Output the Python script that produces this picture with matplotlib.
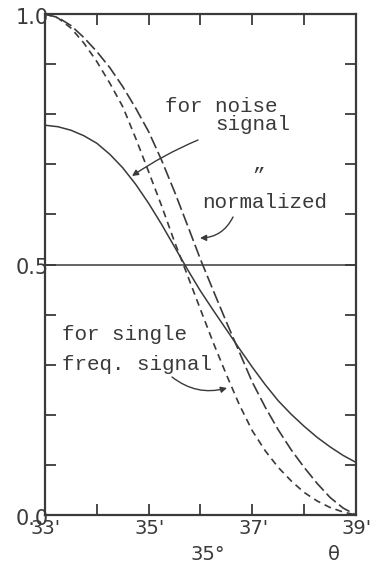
import matplotlib
matplotlib.use("Agg")
import matplotlib.pyplot as plt
from matplotlib.transforms import ScaledTranslation

# ---- data ----
theta_min = [33.00, 33.25, 33.50, 33.75, 34.00, 34.25, 34.50, 34.75, 35.00,
             35.25, 35.50, 35.75, 36.00, 36.25, 36.50, 36.75, 37.00, 37.25,
             37.50, 37.75, 38.00, 38.25, 38.50, 38.75, 39.00]

noise_signal = [0.778, 0.775, 0.768, 0.757, 0.742, 0.720, 0.693, 0.660, 0.622,
                0.580, 0.535, 0.490, 0.447, 0.408, 0.370, 0.332, 0.295, 0.260,
                0.228, 0.201, 0.177, 0.155, 0.136, 0.119, 0.105]

normalized = [1.000, 0.993, 0.977, 0.953, 0.925, 0.893, 0.855, 0.812, 0.765,
              0.708, 0.645, 0.578, 0.510, 0.447, 0.385, 0.325, 0.265, 0.215,
              0.170, 0.130, 0.095, 0.063, 0.035, 0.014, 0.000]

single_freq = [1.000, 0.992, 0.972, 0.942, 0.905, 0.862, 0.815, 0.752, 0.685,
               0.617, 0.545, 0.478, 0.410, 0.343, 0.280, 0.220, 0.168, 0.128,
               0.095, 0.068, 0.045, 0.028, 0.015, 0.006, 0.000]

x_ticks = [33, 34, 35, 36, 37, 38, 39]
x_tick_labels = ["33'", "", "35'", "", "37'", "", "39'"]
y_ticks = [0.0, 0.1, 0.2, 0.3, 0.4, 0.5, 0.6, 0.7, 0.8, 0.9, 1.0]
y_tick_labels = ["0.0", "", "", "", "", "0.5", "", "", "", "", "1.0"]
ref_level = 0.5

# ---- styling ----
plt.rcParams['lines.scale_dashes'] = False
ink = "#3a3a3a"
mono = "Liberation Mono"
hand = "DejaVu Sans"

W, H = 373, 568
fig = plt.figure(figsize=(W / 100, H / 100), dpi=100)
fig.patch.set_facecolor("white")
ax = fig.add_axes([45 / W, 1 - 515 / H, (356 - 45) / W, (515 - 14) / H])

ax.plot(theta_min, noise_signal, color=ink, lw=1.1, solid_capstyle='round')
ax.plot(theta_min, normalized, color=ink, lw=1.2, dashes=(9, 3))
ax.plot(theta_min, single_freq, color=ink, lw=1.2, dashes=(5, 3.5))
ax.axhline(ref_level, color=ink, lw=1.1)

ax.set_xlim(33, 39)
ax.set_ylim(0, 1)

ax.set_xticks(x_ticks)
ax.set_xticklabels(x_tick_labels, family=hand, fontsize=14, color=ink)
ax.set_yticks(y_ticks)
ax.set_yticklabels(y_tick_labels, family=hand, fontsize=15, color=ink)
ax.tick_params(axis='both', direction='in', length=8, width=1.3, color=ink,
               top=True, right=True)
ax.tick_params(axis='x', pad=3)
ax.tick_params(axis='y', pad=-3)
shift = ScaledTranslation(1 / 100, 0, fig.dpi_scale_trans)
for lab in ax.get_xticklabels():
    lab.set_transform(lab.get_transform() + shift)
yshift = ScaledTranslation(0, -2 / 100, fig.dpi_scale_trans)
for lab in ax.get_yticklabels():
    lab.set_transform(lab.get_transform() + yshift)
for s in ax.spines.values():
    s.set_linewidth(1.6)
    s.set_color(ink)

# ---- annotations ----
def fx(px):
    return (px - 45) / 311

def fy(py):
    return (515 - py) / 501

ax.text(fx(165), fy(112), "for noise", family=mono, fontsize=15, color=ink,
        transform=ax.transAxes, va='baseline', ha='left')
ax.text(fx(215), fy(130), "signal", family=mono, fontsize=15, color=ink,
        transform=ax.transAxes, va='baseline', ha='left')
ax.text(fx(258), fy(182), "\u201d", family=mono, fontsize=15, color=ink,
        transform=ax.transAxes, va='baseline', ha='center')
ax.text(fx(202), fy(208), "normalized", family=mono, fontsize=15, color=ink,
        transform=ax.transAxes, va='baseline', ha='left')
ax.text(fx(62), fy(340), "for single", family=mono, fontsize=15, color=ink,
        transform=ax.transAxes, va='baseline', ha='left')
ax.text(fx(62), fy(370), "freq. signal", family=mono, fontsize=15, color=ink,
        transform=ax.transAxes, va='baseline', ha='left')

arrow = dict(arrowstyle='-|>', color=ink, lw=1.0, mutation_scale=9,
             shrinkA=0, shrinkB=0)
ax.annotate("", xy=(fx(132), fy(176)), xytext=(fx(198), fy(140)),
            xycoords='axes fraction', textcoords='axes fraction',
            arrowprops=dict(arrow, connectionstyle="arc3,rad=0.05"))
ax.annotate("", xy=(fx(200), fy(238)), xytext=(fx(233), fy(217)),
            xycoords='axes fraction', textcoords='axes fraction',
            arrowprops=dict(arrow, connectionstyle="arc3,rad=-0.3"))
ax.annotate("", xy=(fx(227), fy(388)), xytext=(fx(172), fy(377)),
            xycoords='axes fraction', textcoords='axes fraction',
            arrowprops=dict(arrow, connectionstyle="arc3,rad=0.25"))

fig.text(208 / W, 1 - 555 / H, "35\u00b0", family=hand, fontsize=14,
         color=ink, ha='center', va='center')
fig.text(334 / W, 1 - 555 / H, "\u03b8", family=hand, fontsize=14,
         color=ink, ha='center', va='center')

fig.savefig("out.png", dpi=100, facecolor="white")
